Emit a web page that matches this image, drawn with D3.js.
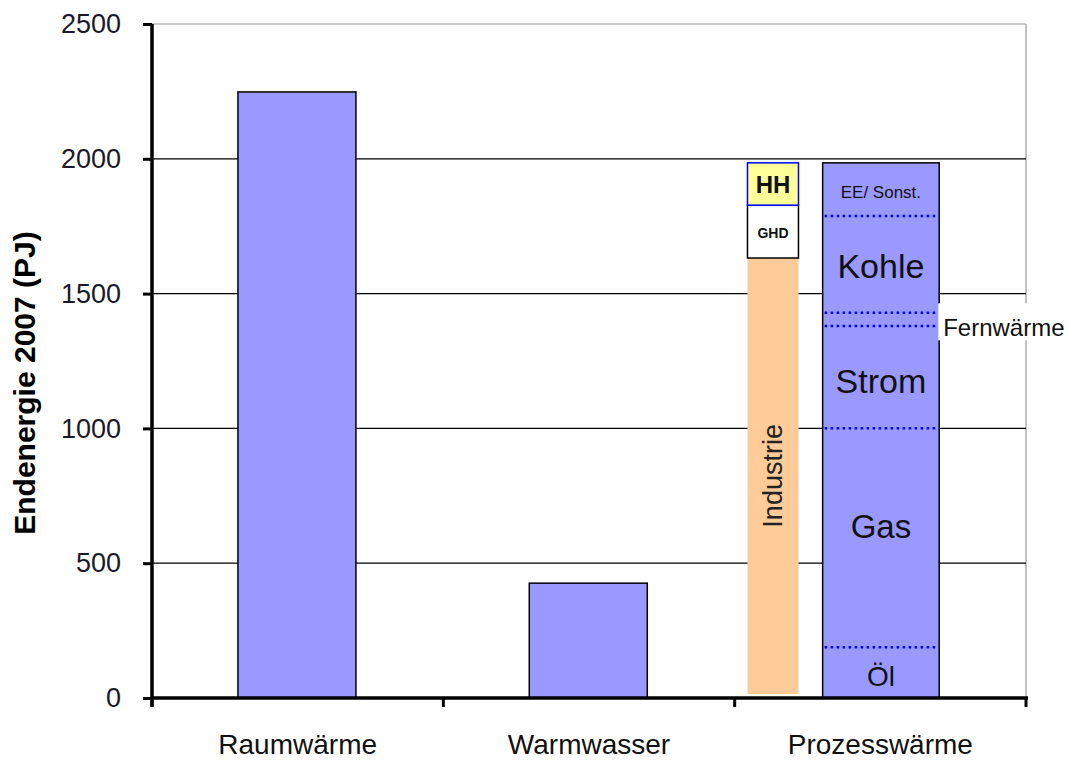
<!DOCTYPE html>
<html>
<head>
<meta charset="utf-8">
<script src="https://cdn.jsdelivr.net/npm/d3@7"></script>
<style>
  body { margin: 0; background: #fff; }
  svg { font-family: "Liberation Sans", Arial, sans-serif; }
</style>
</head>
<body>
<svg width="1069" height="762"></svg>
<script>
// Endenergie 2007 (PJ) by use
var categories = ["Raumwärme", "Warmwasser", "Prozesswärme"];
var totals = [2248, 426, 1985];

// Prozesswärme split by energy carrier (bottom to top)
var carriers = ["Öl", "Gas", "Strom", "Fernwärme", "Kohle", "EE/ Sonst."];
var carrierValues = [188, 813, 379, 49, 359, 197];

// Prozesswärme split by sector (bottom to top)
var sectors = ["Industrie", "GHD", "HH"];
var sectorValues = [1632, 196, 157];

var yTicks = [0, 500, 1000, 1500, 2000, 2500];

var svg = d3.select("svg"),
    mLeft = 152, mRight = 1026, mTop = 24, mBottom = 698;

var x = d3.scaleBand().domain(categories).range([mLeft, mRight]);
var y = d3.scaleLinear().domain([0, 2500]).range([mBottom, mTop]);
var bw = x.bandwidth();

// plot area border (grey) top & right
svg.append("line").attr("x1", mLeft).attr("x2", mRight).attr("y1", y(2500)).attr("y2", y(2500))
   .attr("stroke", "#999").attr("stroke-width", 1.2);
svg.append("line").attr("x1", mRight).attr("x2", mRight).attr("y1", y(2500)).attr("y2", mBottom)
   .attr("stroke", "#999").attr("stroke-width", 1.2);

// gridlines
svg.append("g").selectAll("line")
   .data(yTicks.filter(function(d) { return d > 0 && d < 2500; }))
   .enter().append("line")
   .attr("x1", mLeft).attr("x2", mRight)
   .attr("y1", function(d) { return y(d); }).attr("y2", function(d) { return y(d); })
   .attr("stroke", "#000").attr("stroke-width", 1.3);

// main bars
svg.append("g").selectAll("rect")
   .data(totals.slice(0, 2))
   .enter().append("rect")
   .attr("x", function(d, i) { return x(categories[i]) + bw * 0.295; })
   .attr("y", function(d) { return y(d); })
   .attr("width", bw * 0.405)
   .attr("height", function(d) { return mBottom - y(d); })
   .attr("fill", "#9999ff").attr("stroke", "#000").attr("stroke-width", 1.5);

// Prozesswärme carrier bar
var px = x("Prozesswärme") + bw * 0.302, pw = bw * 0.40;
var cum = Array.from(d3.cumsum(carrierValues));
var starts = [0].concat(cum.slice(0, cum.length - 1));
svg.append("rect")
   .attr("x", px).attr("y", y(cum[cum.length - 1]))
   .attr("width", pw).attr("height", mBottom - y(cum[cum.length - 1]))
   .attr("fill", "#9999ff").attr("stroke", "#000").attr("stroke-width", 1.5);

// dotted separators
svg.append("g").selectAll("line")
   .data(cum.slice(0, cum.length - 1))
   .enter().append("line")
   .attr("x1", px + 2).attr("x2", px + pw - 4)
   .attr("y1", function(d) { return y(d); }).attr("y2", function(d) { return y(d); })
   .attr("stroke", "#0000ff").attr("stroke-width", 2.5).attr("stroke-dasharray", "2.5,3.5");

// carrier labels
var carrierFont = { "Öl": 28, "Gas": 33, "Strom": 34, "Kohle": 34, "EE/ Sonst.": 17 };
var carrierDy = { "Öl": 4, "Gas": -11, "Strom": 4, "Kohle": 2, "EE/ Sonst.": 3 };
carriers.forEach(function(c, i) {
  if (c === "Fernwärme") return;
  var mid = y((starts[i] + cum[i]) / 2);
  svg.append("text")
     .attr("x", px + pw / 2).attr("y", mid + carrierDy[c])
     .attr("text-anchor", "middle").attr("dominant-baseline", "central")
     .attr("font-size", carrierFont[c]).attr("fill", "#111")
     .text(c);
});

// Fernwärme callout with white box
var fMid = y((starts[3] + cum[3]) / 2);
svg.append("rect")
   .attr("x", px + pw - 1).attr("y", fMid - 16).attr("width", 1069 - (px + pw - 1)).attr("height", 37)
   .attr("fill", "#fff");
svg.append("text")
   .attr("x", px + pw + 4).attr("y", fMid + 8)
   .attr("dominant-baseline", "central")
   .attr("font-size", 24).attr("fill", "#111")
   .text("Fernwärme");

// sector bar
var sx = x("Prozesswärme") + bw * 0.044, sw = bw * 0.175;
var scum = Array.from(d3.cumsum(sectorValues));
var sstart = [0].concat(scum.slice(0, scum.length - 1));
var sFill = ["#ffcc99", "#ffffff", "#ffff99"];
var sStroke = ["none", "#000", "#0000ff"];
sectors.forEach(function(s, i) {
  svg.append("rect")
     .attr("x", sx).attr("y", y(scum[i]))
     .attr("width", sw).attr("height", y(sstart[i]) - y(scum[i]) - (i === 0 ? 4 : 0))
     .attr("fill", sFill[i])
     .attr("stroke", sStroke[i]).attr("stroke-width", 1.5);
});
svg.append("text")
   .attr("transform", "translate(" + (sx + sw / 2) + "," + y(sectorValues[0] / 2 + 8) + ") rotate(-90)")
   .attr("text-anchor", "middle").attr("dominant-baseline", "central")
   .attr("font-size", 27).attr("fill", "#222")
   .text("Industrie");
svg.append("text")
   .attr("x", sx + sw / 2).attr("y", y((sstart[1] + scum[1]) / 2) + 1)
   .attr("text-anchor", "middle").attr("dominant-baseline", "central")
   .attr("font-size", 14).attr("font-weight", "bold").attr("fill", "#111")
   .text("GHD");
svg.append("text")
   .attr("x", sx + sw / 2).attr("y", y((sstart[2] + scum[2]) / 2))
   .attr("text-anchor", "middle").attr("dominant-baseline", "central")
   .attr("font-size", 24).attr("font-weight", "bold").attr("fill", "#111")
   .text("HH");

// y axis
var yAxis = svg.append("g")
   .attr("transform", "translate(" + mLeft + ",0)")
   .call(d3.axisLeft(y).tickValues(yTicks).tickFormat(d3.format("d"))
         .tickSize(9).tickPadding(22).tickSizeOuter(0));
yAxis.select(".domain").attr("stroke-width", 3.5).attr("d", "M0," + mTop + "V" + (mBottom + 9));
yAxis.selectAll(".tick line").attr("stroke-width", 3);
yAxis.selectAll(".tick text").attr("font-size", 27).attr("fill", "#1a1a2a")
   .attr("font-family", "Liberation Sans, Arial, sans-serif");

// x axis
svg.append("line").attr("x1", mLeft).attr("x2", mRight + 2).attr("y1", mBottom).attr("y2", mBottom)
   .attr("stroke", "#000").attr("stroke-width", 3.5);
svg.append("g").selectAll("line")
   .data(categories.map(function(c) { return x(c); }).concat([mRight]))
   .enter().append("line")
   .attr("x1", function(d) { return d; }).attr("x2", function(d) { return d; })
   .attr("y1", mBottom).attr("y2", mBottom + 9)
   .attr("stroke", "#000").attr("stroke-width", 3);
var xAxis = svg.append("g")
   .attr("transform", "translate(0," + mBottom + ")")
   .call(d3.axisBottom(x).tickSize(0).tickPadding(36));
xAxis.select(".domain").remove();
xAxis.selectAll(".tick text").attr("font-size", 28).attr("fill", "#111")
   .attr("font-family", "Liberation Sans, Arial, sans-serif");

// y axis title
svg.append("text")
   .attr("transform", "translate(35," + 383 + ") rotate(-90)")
   .attr("text-anchor", "middle")
   .attr("font-size", 30).attr("font-weight", "bold").attr("fill", "#000")
   .text("Endenergie 2007 (PJ)");
</script>
</body>
</html>
